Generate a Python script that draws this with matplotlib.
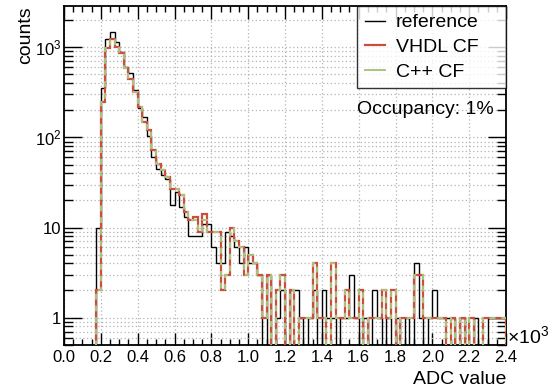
import numpy as np
import matplotlib
matplotlib.use('Agg')
import matplotlib.pyplot as plt
from matplotlib.lines import Line2D
from matplotlib.ticker import FixedLocator, MultipleLocator, NullFormatter

plt.rcParams['font.family'] = ['Liberation Sans', 'DejaVu Sans']
plt.rcParams['mathtext.fontset'] = 'custom'
plt.rcParams['mathtext.rm'] = 'Liberation Sans'
plt.rcParams['mathtext.default'] = 'regular'

# 96 bins of 25 ADC counts, axis shown in units of 10^3
bin_edges = np.arange(0, 2401, 25) / 1000.0

reference = [0, 0, 0, 0, 0, 0, 0, 10, 350, 1240,
             1490, 1150, 890, 610, 515, 335, 210, 170, 105, 61,
             45, 38, 35, 18, 25, 17, 13, 8, 8, 8,
             11, 11, 6, 4, 4, 9, 8, 6, 4, 6,
             4, 4, 3, 0, 3, 0, 1, 2, 0, 2,
             2, 1, 0, 1, 2, 0, 2, 1, 1, 0,
             1, 1, 3, 1, 0, 1, 0, 2, 1, 0,
             1, 0, 1, 0, 1, 0, 4, 1, 0, 1,
             2, 1, 1, 1, 1, 0, 1, 0, 0, 1,
             0, 0, 1, 1, 1, 1]

vhdl_cf = [0, 0, 0, 0, 0, 0, 0, 2, 250, 990,
           1230, 1000, 860, 590, 450, 320, 215, 150, 120, 72,
           51, 43, 36, 27, 27, 23, 15, 12, 13, 9,
           14, 9, 9, 9, 2, 3, 10, 7, 6, 3,
           5, 4, 3, 1, 3, 0, 2, 3, 0, 2,
           0, 1, 1, 1, 4, 1, 1, 0, 4, 1,
           1, 2, 1, 1, 2, 0, 1, 1, 1, 2,
           1, 2, 0, 1, 1, 1, 3, 3, 1, 1,
           1, 1, 1, 0, 1, 0, 1, 0, 1, 0,
           0, 1, 1, 1, 1, 1]

cpp_cf = [0, 0, 0, 0, 0, 0, 0, 2, 250, 990,
          1230, 990, 860, 590, 450, 320, 215, 150, 120, 72,
          51, 43, 36, 27, 27, 23, 15, 12, 12, 9,
          12, 9, 9, 9, 2, 3, 10, 7, 6, 3,
          5, 4, 3, 1, 3, 0, 2, 3, 0, 2,
          0, 1, 1, 1, 4, 1, 1, 0, 4, 1,
          1, 2, 1, 1, 2, 0, 1, 1, 1, 2,
          1, 2, 0, 1, 1, 1, 3, 3, 1, 1,
          1, 1, 1, 0, 1, 0, 1, 0, 1, 0,
          0, 1, 1, 1, 1, 1]

col_ref = 'black'
col_vhdl = '#c8503c'
col_cpp = '#a9c47f'

fig = plt.figure(figsize=(5.56, 3.92), dpi=100)
ax = fig.add_axes([0.1151, 0.1207, 0.795, 0.864])


def floor_zero(v):
    # empty bins drop below the log axis
    v = np.asarray(v, dtype=float)
    return np.where(v > 0, v, 0.01)


ax.stairs(floor_zero(reference), bin_edges, color=col_ref, lw=1.0, zorder=3)
ax.stairs(floor_zero(vhdl_cf), bin_edges, color=col_vhdl, lw=1.6, zorder=4)
ax.stairs(floor_zero(cpp_cf), bin_edges, color=col_cpp, lw=1.4, ls=(0, (3, 3)), zorder=5)

ax.set_yscale('log')
ax.set_xlim(0, 2.4)
ax.set_ylim(0.5, 2880)

# ticks like ROOT: inward, on all sides
ax.xaxis.set_major_locator(MultipleLocator(0.2))
ax.xaxis.set_minor_locator(MultipleLocator(0.05))
ax.xaxis.set_major_formatter(matplotlib.ticker.FormatStrFormatter('%.1f'))
major_y = [1, 10, 100, 1000]
ax.yaxis.set_major_locator(FixedLocator(major_y))
ax.set_yticklabels(['1', '10', '$10^{2}$', '$10^{3}$'])
minor_y = [m * 10 ** e for e in range(-1, 4) for m in range(2, 10)]
ax.yaxis.set_minor_locator(FixedLocator(minor_y))
ax.yaxis.set_minor_formatter(NullFormatter())
ax.tick_params(which='both', direction='in', top=True, right=True, labelsize=12, width=1)
ax.tick_params(axis='x', which='major', length=9, pad=4)
ax.tick_params(axis='x', which='minor', length=4.5)
ax.tick_params(axis='y', which='major', length=13, pad=2)
ax.tick_params(axis='y', which='minor', length=6.5)

ax.grid(True, which='major', axis='x', color='#b4b4b4', ls=(0, (1, 2)), lw=0.9)
ax.grid(True, which='both', axis='y', color='#b4b4b4', ls=(0, (1, 2)), lw=0.9)
ax.set_axisbelow(True)
for sp in ax.spines.values():
    sp.set_linewidth(1.3)

ax.set_xlabel('ADC value', fontsize=14, loc='right', labelpad=4)
ax.set_ylabel('counts', fontsize=14, loc='top', labelpad=0)
ax.text(1.003, 0.025, r'$\times10^{3}$', transform=ax.transAxes, fontsize=14,
        ha='left', va='center')

handles = [Line2D([], [], color=col_ref, lw=1.0),
           Line2D([], [], color=col_vhdl, lw=1.6),
           Line2D([], [], color=col_cpp, lw=1.4)]
leg = ax.legend(handles, ['reference', 'VHDL CF', 'C++ CF'], loc='upper left',
                bbox_to_anchor=(0.663, 1.0, 0.337, 0.0), mode='expand', fontsize=14,
                frameon=True, fancybox=False, handlelength=1.05, handletextpad=0.55,
                labelspacing=0.36, borderpad=0.4, borderaxespad=0)
leg.get_frame().set_edgecolor('black')
leg.get_frame().set_linewidth(1.0)
leg.set_zorder(10)

ax.text(0.663, 0.695, 'Occupancy: 1%', transform=ax.transAxes, fontsize=14,
        ha='left', va='center', zorder=11)

fig.savefig('out.png', dpi=100)
